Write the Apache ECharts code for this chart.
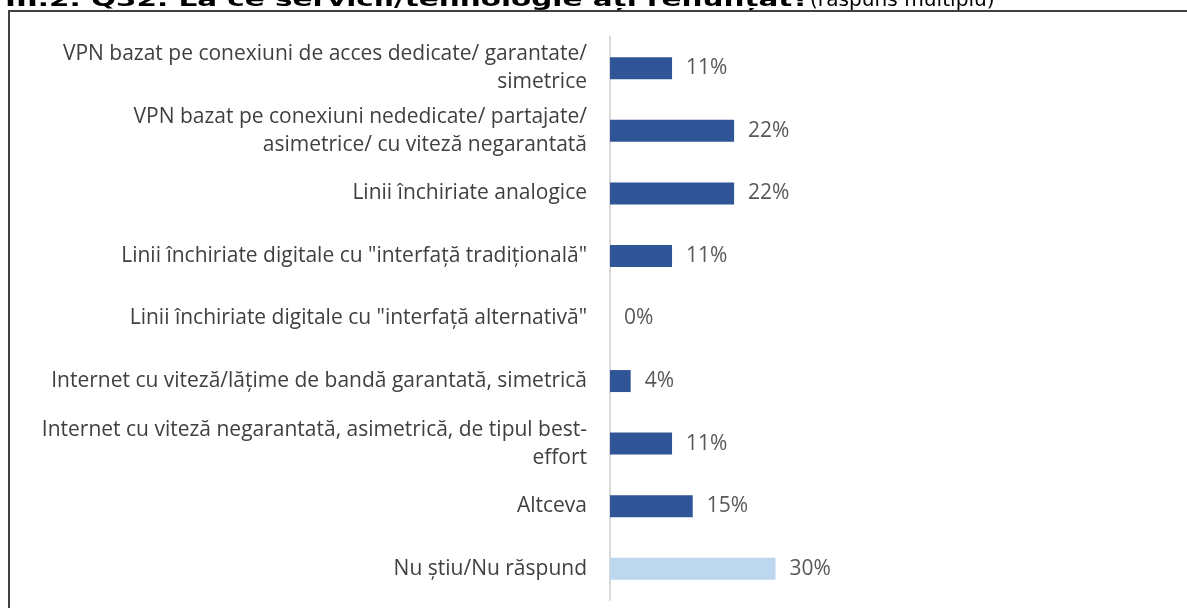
<!DOCTYPE html>
<html><head><meta charset="utf-8">
<script src="https://cdn.jsdelivr.net/npm/echarts@6/dist/echarts.min.js"></script>
<style>html,body{margin:0;padding:0;background:#fff}#c{width:1187px;height:608px}</style>
</head><body><div id="c"></div>
<script>
const categories = [
  "VPN bazat pe conexiuni de acces dedicate/ garantate/\nsimetrice",
  "VPN bazat pe conexiuni nededicate/ partajate/\nasimetrice/ cu viteză negarantată",
  "Linii închiriate analogice",
  "Linii închiriate digitale cu \"interfață tradițională\"",
  "Linii închiriate digitale cu \"interfață alternativă\"",
  "Internet cu viteză/lățime de bandă garantată, simetrică",
  "Internet cu viteză negarantată, asimetrică, de tipul best-\neffort",
  "Altceva",
  "Nu știu/Nu răspund"
];
const values = [11.1, 22.2, 22.2, 11.1, 0, 3.7, 11.1, 14.8, 29.6];
const valueLabels = ["11%", "22%", "22%", "11%", "0%", "4%", "11%", "15%", "30%"];
const titleBold = "III.2. Q32. La ce servicii/tehnologie ați renunțat?";
const titleNormal = "(răspuns multiplu)";

const darkBlue = "#2F5597", lightBlue = "#BDD7EE";
const chart = echarts.init(document.getElementById('c'), null, {renderer: 'canvas'});
chart.setOption({
  animation: false,
  grid: {left: 610, right: 18, top: 37, bottom: 8, containLabel: false},
  xAxis: {type: 'value', min: 0, max: 100, show: false},
  yAxis: {
    type: 'category', inverse: true, data: categories,
    axisLine: {show: true, lineStyle: {color: '#D9D9D9', width: 2}},
    axisTick: {show: false},
    axisLabel: {margin: 23, color: '#404040', fontFamily: 'Open Sans', fontSize: 21, lineHeight: 28, align: 'right'}
  },
  series: [{
    type: 'bar', barWidth: 22,
    data: values.map((v, i) => ({value: v, itemStyle: {color: i === values.length - 1 ? lightBlue : darkBlue}})),
    label: {show: true, position: 'right', distance: 14, color: '#595959', fontFamily: 'Open Sans', fontSize: 21,
      formatter: p => valueLabels[p.dataIndex]}
  }],
  graphic: [
    {type: 'text', x: 5, y: 11, scaleX: 1.55, style: {
      text: titleBold, verticalAlign: 'bottom', fontFamily: 'DejaVu Sans', fontWeight: 'bold', fontSize: 19, fill: '#000'}},
    {type: 'text', x: 810, y: 11, scaleX: 1.06, style: {
      text: titleNormal, verticalAlign: 'bottom', fontFamily: 'DejaVu Sans', fontSize: 19, fill: '#000'}},
    {type: 'polyline', shape: {points: [[9, 608], [9, 11], [1187, 11]]}, style: {stroke: '#404040', lineWidth: 2, fill: null}}
  ]
});
</script></body></html>
